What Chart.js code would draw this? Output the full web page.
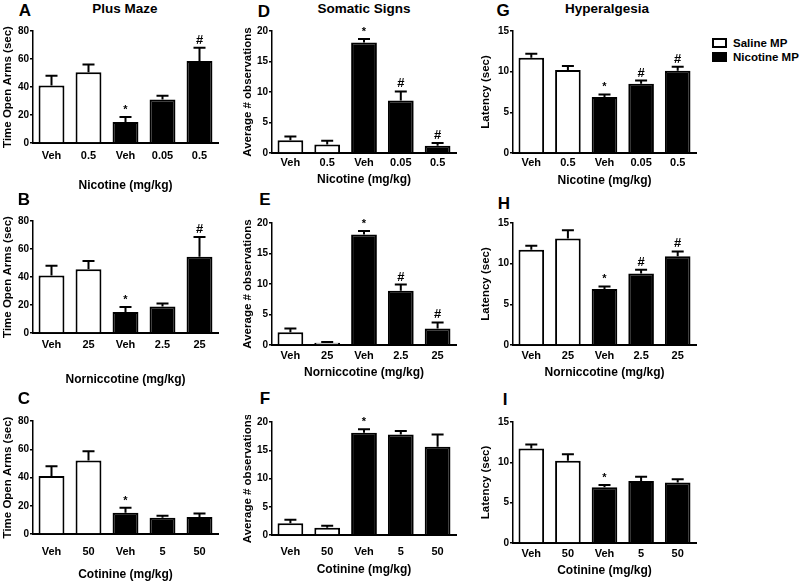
<!DOCTYPE html>
<html>
<head>
<meta charset="utf-8">
<title>Plus Maze, Somatic Signs, Hyperalgesia</title>
<script src="https://cdn.jsdelivr.net/npm/chart.js"></script>
<style>
  body { margin: 0; background: #fff; }
  #figure { position: relative; width: 800px; height: 583px; overflow: hidden;
            font-family: "Liberation Sans", Arial, sans-serif; font-weight: bold; color: #000; }
  #figure canvas { position: absolute; }
  .tag { position: absolute; transform: translate(-50%, -50%); white-space: nowrap; }
  .letter { font-size: 17px; }
  .heading { font-size: 13.5px; }
  .legend { position: absolute; left: 712px; top: 36px; font-size: 11.5px; line-height: 14px; white-space: nowrap; }
  .legend div { display: flex; align-items: center; }
  .legend .box { display: inline-block; width: 15px; height: 10px; border: 2px solid #000;
                 box-sizing: border-box; margin-right: 6px; flex: none; }
</style>
</head>
<body>
<div id="figure">
  <div class="tag heading" style="left:125px; top:8px">Plus Maze</div>
  <div class="tag heading" style="left:364px; top:8px">Somatic Signs</div>
  <div class="tag heading" style="left:607px; top:8px">Hyperalgesia</div>
  <div class="legend">
    <div><span class="box" style="background:#fff"></span>Saline MP</div>
    <div><span class="box" style="background:#000"></span>Nicotine MP</div>
  </div>
</div>
<script>
  // first two bars of each panel are saline MP, the last three nicotine MP
  const salineCount = 2;

  const nicotineDoses = ['Veh', '0.5', 'Veh', '0.05', '0.5'];
  const nornicotineDoses = ['Veh', '25', 'Veh', '2.5', '25'];
  const cotinineDoses = ['Veh', '50', 'Veh', '5', '50'];

  const mazeTicks = [0, 20, 40, 60, 80];
  const signsTicks = [0, 5, 10, 15, 20];
  const latencyTicks = [0, 5, 10, 15];

  // plus maze, time in open arms (sec)
  const mazeNicotine = [41, 50.5, 15, 31, 58.5];
  const mazeNicotineErr = [7, 5.5, 3.5, 2.8, 9.5];
  const mazeNicotineMarks = ['', '', '*', '', '#'];
  const mazeNornicotine = [41, 45.5, 15, 19, 54.5];
  const mazeNornicotineErr = [7, 6, 3.5, 2, 14];
  const mazeNornicotineMarks = ['', '', '*', '', '#'];
  const mazeCotinine = [41, 52, 15, 11.5, 12];
  const mazeCotinineErr = [7, 6.5, 3.5, 1.5, 2.5];
  const mazeCotinineMarks = ['', '', '*', '', ''];

  // somatic signs, average # observations
  const signsNicotine = [2.1, 1.4, 18.1, 8.6, 1.2];
  const signsNicotineErr = [0.6, 0.6, 0.6, 1.5, 0.45];
  const signsNicotineMarks = ['', '', '*', '#', '#'];
  const signsNornicotine = [2.1, 0.35, 18.1, 8.9, 2.7];
  const signsNornicotineErr = [0.6, 0.15, 0.6, 1.0, 1.0];
  const signsNornicotineMarks = ['', '', '*', '#', '#'];
  const signsCotinine = [2.1, 1.3, 18.1, 17.8, 15.6];
  const signsCotinineErr = [0.6, 0.35, 0.6, 0.6, 2.2];
  const signsCotinineMarks = ['', '', '*', '', ''];

  // hyperalgesia, latency (sec)
  const latencyNicotine = [11.7, 10.2, 6.9, 8.5, 10.1];
  const latencyNicotineErr = [0.5, 0.5, 0.3, 0.4, 0.5];
  const latencyNicotineMarks = ['', '', '*', '#', '#'];
  const latencyNornicotine = [11.7, 13.1, 6.9, 8.8, 10.9];
  const latencyNornicotineErr = [0.5, 1.0, 0.3, 0.45, 0.6];
  const latencyNornicotineMarks = ['', '', '*', '#', '#'];
  const latencyCotinine = [11.7, 10.2, 6.9, 7.7, 7.5];
  const latencyCotinineErr = [0.5, 0.8, 0.3, 0.5, 0.4];
  const latencyCotinineMarks = ['', '', '*', '', ''];

  const FONT = '"Liberation Sans", Arial, sans-serif';

  // draws the SEM whiskers (upward only) and the significance marks
  const errorBars = {
    id: 'errorBars',
    afterDatasetsDraw(chart) {
      const ctx = chart.ctx;
      const y = chart.scales.y;
      ctx.save();
      ctx.strokeStyle = '#000';
      ctx.fillStyle = '#000';
      ctx.lineWidth = 2;
      chart.data.datasets.forEach((ds, di) => {
        chart.getDatasetMeta(di).data.forEach((bar, i) => {
          const v = ds.data[i];
          if (v == null) return;
          const top = y.getPixelForValue(v + ds.errors[i]);
          ctx.beginPath();
          ctx.moveTo(bar.x, bar.y);
          ctx.lineTo(bar.x, top);
          ctx.moveTo(bar.x - 6, top);
          ctx.lineTo(bar.x + 6, top);
          ctx.stroke();
          const mark = ds.marks[i];
          if (mark) {
            ctx.font = (mark === '*' ? 'bold 11px ' : 'bold 13px ') + FONT;
            ctx.textAlign = 'center';
            ctx.textBaseline = 'alphabetic';
            ctx.fillText(mark, bar.x, top - 4);
          }
        });
      });
      ctx.restore();
    }
  };

  const panels = [
    { letter: 'A', at: [25, 11], labels: nicotineDoses, values: mazeNicotine, errors: mazeNicotineErr, marks: mazeNicotineMarks,
      ticks: mazeTicks, yTitle: 'Time Open Arms (sec)', xTitle: 'Nicotine (mg/kg)',
      box: { axisX: 33, right: 218, top: 31, bottom: 143, labelY: 156, titleY: 186, yTitleX: 8 } },
    { letter: 'B', at: [24, 200], labels: nornicotineDoses, values: mazeNornicotine, errors: mazeNornicotineErr, marks: mazeNornicotineMarks,
      ticks: mazeTicks, yTitle: 'Time Open Arms (sec)', xTitle: 'Norniccotine (mg/kg)',
      box: { axisX: 33, right: 218, top: 221, bottom: 333, labelY: 345, titleY: 380, yTitleX: 8 } },
    { letter: 'C', at: [24, 399], labels: cotinineDoses, values: mazeCotinine, errors: mazeCotinineErr, marks: mazeCotinineMarks,
      ticks: mazeTicks, yTitle: 'Time Open Arms (sec)', xTitle: 'Cotinine (mg/kg)',
      box: { axisX: 33, right: 218, top: 421, bottom: 534, labelY: 552, titleY: 575, yTitleX: 8 } },
    { letter: 'D', at: [264, 12], labels: nicotineDoses, values: signsNicotine, errors: signsNicotineErr, marks: signsNicotineMarks,
      ticks: signsTicks, yTitle: 'Average # observations', xTitle: 'Nicotine (mg/kg)',
      box: { axisX: 272, right: 456, top: 31, bottom: 153, labelY: 163, titleY: 180, yTitleX: 248 } },
    { letter: 'E', at: [265, 200], labels: nornicotineDoses, values: signsNornicotine, errors: signsNornicotineErr, marks: signsNornicotineMarks,
      ticks: signsTicks, yTitle: 'Average # observations', xTitle: 'Norniccotine (mg/kg)',
      box: { axisX: 272, right: 456, top: 223, bottom: 345, labelY: 356, titleY: 373, yTitleX: 248 } },
    { letter: 'F', at: [265, 399], labels: cotinineDoses, values: signsCotinine, errors: signsCotinineErr, marks: signsCotinineMarks,
      ticks: signsTicks, yTitle: 'Average # observations', xTitle: 'Cotinine (mg/kg)',
      box: { axisX: 272, right: 456, top: 422, bottom: 535, labelY: 552, titleY: 570, yTitleX: 248 } },
    { letter: 'G', at: [503, 11], labels: nicotineDoses, values: latencyNicotine, errors: latencyNicotineErr, marks: latencyNicotineMarks,
      ticks: latencyTicks, yTitle: 'Latency (sec)', xTitle: 'Nicotine (mg/kg)',
      box: { axisX: 513, right: 696, top: 31, bottom: 153, labelY: 163, titleY: 181, yTitleX: 486 } },
    { letter: 'H', at: [504, 204], labels: nornicotineDoses, values: latencyNornicotine, errors: latencyNornicotineErr, marks: latencyNornicotineMarks,
      ticks: latencyTicks, yTitle: 'Latency (sec)', xTitle: 'Norniccotine (mg/kg)',
      box: { axisX: 513, right: 696, top: 223, bottom: 345, labelY: 356, titleY: 373, yTitleX: 486 } },
    { letter: 'I', at: [505, 400], labels: cotinineDoses, values: latencyCotinine, errors: latencyCotinineErr, marks: latencyCotinineMarks,
      ticks: latencyTicks, yTitle: 'Latency (sec)', xTitle: 'Cotinine (mg/kg)',
      box: { axisX: 513, right: 696, top: 422, bottom: 543, labelY: 554, titleY: 571, yTitleX: 486 } }
  ];

  const figure = document.getElementById('figure');

  panels.forEach(p => {
    const b = p.box;
    const yAxisW = 33, padTop = 7, padRight = 6;
    const left = b.axisX - yAxisW;
    const top = b.top - padTop;
    const xAxisH = b.titleY + 9 - b.bottom;
    const width = b.right + padRight - left;
    const height = b.bottom - top + xAxisH;

    const tag = document.createElement('div');
    tag.className = 'tag letter';
    tag.style.left = p.at[0] + 'px';
    tag.style.top = p.at[1] + 'px';
    tag.textContent = p.letter;
    figure.appendChild(tag);

    const canvas = document.createElement('canvas');
    canvas.width = width;
    canvas.height = height;
    canvas.style.left = left + 'px';
    canvas.style.top = top + 'px';
    figure.appendChild(canvas);

    const common = { borderColor: '#000', borderWidth: 2, borderSkipped: 'bottom', skipNull: true,
                     errors: p.errors, marks: p.marks, categoryPercentage: 1, barPercentage: 0.7 };

    new Chart(canvas.getContext('2d'), {
      type: 'bar',
      data: {
        labels: p.labels,
        datasets: [
          Object.assign({ label: 'Saline MP', backgroundColor: '#fff',
            data: p.values.map((v, i) => i < salineCount ? v : null) }, common),
          Object.assign({ label: 'Nicotine MP', backgroundColor: '#000',
            data: p.values.map((v, i) => i >= salineCount ? v : null) }, common)
        ]
      },
      options: {
        responsive: false,
        animation: false,
        layout: { padding: { left: 0, top: padTop, right: padRight, bottom: 0 } },
        plugins: { legend: { display: false }, tooltip: { enabled: false } },
        scales: {
          x: {
            grid: { display: false, drawTicks: false },
            border: { color: '#000', width: 2 },
            ticks: { color: '#000', padding: b.labelY - b.bottom - 6.6, font: { family: FONT, size: 11, weight: 'bold' } },
            title: { display: true, text: p.xTitle, color: '#000', padding: { top: 0, bottom: 1.8 },
                     font: { family: FONT, size: 12, weight: 'bold' } },
            afterFit: s => { s.height = xAxisH; }
          },
          y: {
            min: p.ticks[0],
            max: p.ticks[p.ticks.length - 1],
            afterBuildTicks: s => { s.ticks = p.ticks.map(v => ({ value: v })); },
            grid: { display: true, drawOnChartArea: false, drawTicks: true, tickLength: 3, color: '#000', lineWidth: 1.5 },
            border: { color: '#000', width: 1.5 },
            ticks: { color: '#000', padding: 1, font: { family: FONT, size: 10, weight: 'bold' } },
            title: { display: true, text: p.yTitle, color: '#000', padding: { top: b.yTitleX - left - 6.9, bottom: 0 },
                     font: { family: FONT, size: 11.5, weight: 'bold' } },
            afterFit: s => { s.width = yAxisW; }
          }
        }
      },
      plugins: [errorBars]
    });
  });
</script>
</body>
</html>
